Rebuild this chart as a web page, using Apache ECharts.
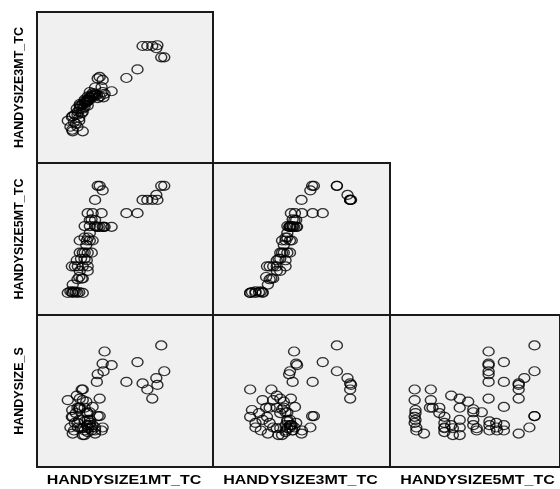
<!DOCTYPE html>
<html>
<head>
<meta charset="utf-8">
<script src="https://cdn.jsdelivr.net/npm/echarts@6/dist/echarts.min.js"></script>
<style>
  html, body { margin: 0; padding: 0; background: #fff; }
  #chart { width: 560px; height: 489px; }
</style>
</head>
<body>
<div id="chart"></div>
<script>
// variable names (x for columns, y for rows)
const varNames = ['HANDYSIZE1MT_TC', 'HANDYSIZE3MT_TC', 'HANDYSIZE5MT_TC', 'HANDYSIZE_S']

// one value per observation, scaled 0-100 across the panel
const h1 = [17.5, 20.3, 23, 26, 20, 22, 24, 19, 21, 20.3, 25.4, 26, 24, 23, 24.3, 28.8, 19.8,
  21.5, 23.2, 26, 28.8, 22.6, 28.3, 25, 27, 24.3, 27.1, 28.8, 31.1, 26, 28, 24.3, 28.3, 30,
  31.6, 29, 27, 30, 38.4, 37.3, 42.4, 37.8, 34.5, 34, 35.6, 27.1, 30, 33, 30, 33, 31, 31.6,
  28.8, 36.7, 50.8, 57.1, 60, 62.7, 65.5, 68.4, 33, 67.8, 70.6, 72.3, 34.5, 35.6, 37.3]
const h3 = [28, 21, 24, 21, 22, 26, 28, 24, 27, 31, 33, 34, 30, 32, 36, 38, 30.5,
  32, 34, 36, 41, 36, 41, 38, 37, 38, 40, 42, 43.5, 39, 40, 39, 41, 43.5,
  44.5, 42, 41, 42, 45.8, 47, 47.5, 43.5, 43, 45, 44, 42, 43.5, 45, 47, 46, 45, 46.3,
  44, 50.3, 56.3, 62, 77.5, 77.5, 77.5, 78, 50, 76, 70, 70, 56, 57, 55]
const h5 = [14.5, 14.5, 14.5, 14.5, 15, 15, 15, 15.5, 15.5, 20, 24, 24, 25, 23.5, 29, 29, 32,
  32, 32, 32, 32, 36, 36, 37, 37, 41, 41, 41, 41, 41, 46, 49, 49, 49,
  49, 51, 51, 54, 58, 58, 58, 58, 58, 58, 58, 58.5, 58.5, 58.5, 62.5, 62.5, 63, 67,
  67, 67, 67, 67, 75.7, 75.7, 75.7, 75.7, 75.7, 79, 85, 85, 85, 85, 82]
const hs = [44, 33, 29, 51, 37.5, 35.5, 31, 26, 24, 22, 51, 44, 39, 39, 39, 35.5, 33,
  29, 26, 25.5, 23, 47, 27.5, 25.5, 21, 45, 39, 31, 26, 21, 43, 38, 36, 31,
  27.5, 25.5, 24, 36, 76, 68, 67, 63, 61, 56, 45, 30, 27.5, 24, 29, 26, 24, 39.5,
  27.5, 24, 56, 69, 55, 51, 45, 54, 22, 58.5, 80, 63, 33.5, 33.5, 26]

const cols = [h1, h3, h5]
const rows = [h3, h5, hs]

const chart = echarts.init(document.getElementById('chart'))

const colLeft = [37, 213, 390]
const colWidth = [176, 177, 177]
const rowTop = [12, 163, 315]
const rowHeight = [151, 152, 152]

const grids = [], xAxes = [], yAxes = [], series = []
let idx = 0
for (let r = 0; r < 3; r++) {
  for (let c = 0; c <= r; c++) {
    grids.push({
      left: colLeft[c], top: rowTop[r], width: colWidth[c], height: rowHeight[r],
      show: true, backgroundColor: '#f0f0f0', borderColor: '#1a1a1a', borderWidth: 2
    })
    xAxes.push({
      gridIndex: idx, type: 'value', min: 0, max: 100,
      axisLine: { show: false }, axisTick: { show: false },
      axisLabel: { show: false }, splitLine: { show: false }
    })
    yAxes.push({
      gridIndex: idx, type: 'value', min: 0, max: 100,
      axisLine: { show: false }, axisTick: { show: false },
      axisLabel: { show: false }, splitLine: { show: false },
      name: c === 0 ? varNames[r + 1] : '',
      nameLocation: 'middle', nameGap: 11,
      nameTextStyle: { fontFamily: 'Liberation Sans', fontWeight: 'bold', fontSize: 12.5, color: '#000' }
    })
    series.push({
      type: 'scatter', xAxisIndex: idx, yAxisIndex: idx,
      symbol: 'circle', symbolSize: [11, 9],
      itemStyle: { color: 'transparent', borderColor: '#000', borderWidth: 1.3 },
      data: cols[c].map((v, i) => [v, rows[r][i]]),
      silent: true
    })
    idx++
  }
}

// bottom labels: the picture is stretched sideways, so widen the text
const xLabels = [0, 1, 2].map(c => ({
  type: 'text',
  x: colLeft[c] + colWidth[c] / 2 - 1,
  y: 481,
  scaleX: 1.28,
  style: {
    text: varNames[c],
    textAlign: 'center',
    textVerticalAlign: 'middle',
    font: 'bold 12.5px "Liberation Sans", Arial, sans-serif',
    fill: '#000'
  }
}))

chart.setOption({
  animation: false,
  grid: grids,
  xAxis: xAxes,
  yAxis: yAxes,
  series: series,
  graphic: xLabels
})
</script>
</body>
</html>
